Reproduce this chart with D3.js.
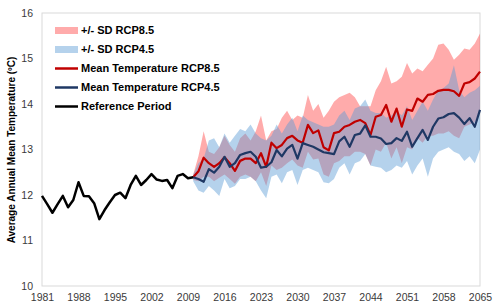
<!DOCTYPE html>
<html>
<head>
<meta charset="utf-8">
<script src="https://cdnjs.cloudflare.com/ajax/libs/d3/7.8.5/d3.min.js"></script>
<style>
body { margin:0; background:#fff; }
#container { width:500px; height:308px; position:relative; }
text { font-family:'Liberation Sans', Arial, sans-serif; }
.tick text { font-size:10.5px; fill:#3a3a3a; }
.legend-label { font-size:11px; font-weight:bold; fill:#000; }
.axis-title { font-size:10px; font-weight:bold; fill:#000; }
</style>
</head>
<body>
<div id="container"></div>
<script>

// reference period 1981-2010
var refYears = [1981,1982,1983,1984,1985,1986,1987,1988,1989,1990,1991,1992,1993,1994,1995,
	1996,1997,1998,1999,2000,2001,2002,2003,2004,2005,2006,2007,2008,2009,2010];
var refTemp = [11.98,11.80,11.61,11.80,11.98,11.73,11.89,12.28,11.98,11.97,11.82,11.47,11.67,11.84,12.00,
	12.05,11.93,12.22,12.42,12.22,12.33,12.46,12.34,12.31,12.33,12.15,12.42,12.46,12.37,12.39];

// projections 2010-2065
var projYears = [2010,2011,2012,2013,2014,2015,2016,2017,2018,2019,2020,2021,2022,2023,2024,2025,2026,2027,2028,2029,
	2030,2031,2032,2033,2034,2035,2036,2037,2038,2039,2040,2041,2042,2043,2044,2045,2046,2047,2048,2049,
	2050,2051,2052,2053,2054,2055,2056,2057,2058,2059,2060,2061,2062,2063,2064,2065];

var rcp85Mean = [12.39,12.52,12.82,12.70,12.62,12.70,12.83,12.70,12.53,12.75,12.80,12.80,12.70,12.92,12.62,13.15,13.03,13.10,13.25,13.30,
	13.20,13.15,13.54,13.36,13.42,13.05,12.98,13.36,13.39,13.50,13.54,13.61,13.65,13.58,13.32,13.72,13.76,13.98,13.61,13.90,
	13.50,13.88,13.85,14.12,14.05,14.20,14.22,14.29,14.31,14.31,14.28,14.18,14.45,14.48,14.56,14.71];
var rcp85Upper = [12.45,12.85,13.40,12.95,12.90,13.05,13.30,13.10,12.95,13.25,13.35,13.20,13.40,13.75,13.20,13.40,13.45,13.70,13.85,13.65,
	13.75,13.70,14.20,13.85,14.00,13.70,13.85,14.05,14.15,14.20,14.25,14.15,13.95,13.95,13.95,14.30,14.50,14.82,14.45,14.50,
	14.60,14.90,14.67,14.78,14.72,14.86,15.00,15.30,15.33,15.19,14.97,15.08,15.22,15.19,15.33,15.55];
var rcp85Lower = [12.33,12.30,12.40,12.40,12.30,12.38,12.45,12.35,12.25,12.40,12.45,12.40,12.30,12.50,12.20,12.65,12.55,12.60,12.70,12.78,
	12.65,12.60,12.95,12.78,12.80,12.45,12.40,12.70,12.75,12.85,12.85,12.95,12.95,12.90,12.65,13.00,12.95,13.15,12.80,13.05,
	12.70,13.05,13.00,13.25,13.15,13.30,13.30,13.35,13.35,13.40,13.30,13.25,13.50,13.55,13.60,13.80];

var rcp45Mean = [12.39,12.35,12.29,12.57,12.49,12.62,12.84,12.62,12.70,12.88,12.92,12.95,12.84,12.60,12.62,12.72,12.99,12.85,13.02,13.10,
	12.80,13.14,13.10,13.06,13.00,12.94,12.92,12.90,13.18,13.28,13.06,13.32,13.35,13.53,13.28,13.28,13.24,13.12,13.14,13.25,
	13.19,13.39,13.06,13.25,13.43,13.21,13.50,13.68,13.71,13.78,13.80,13.70,13.56,13.69,13.50,13.87];
var rcp45Upper = [12.45,12.70,12.80,13.20,13.25,13.05,13.35,13.15,13.30,13.45,13.40,13.55,13.35,13.25,13.20,13.30,13.55,13.35,13.55,13.70,
	13.40,13.75,13.65,13.60,13.55,13.50,13.50,13.55,13.75,13.85,13.65,13.90,13.95,14.10,13.85,13.80,13.80,13.70,13.75,13.85,
	13.75,13.95,13.65,13.85,14.05,13.85,14.10,14.30,14.35,14.45,14.85,14.30,14.15,14.25,14.30,14.40];
var rcp45Lower = [12.30,12.10,12.05,12.20,12.10,11.98,12.35,12.15,12.20,12.35,12.35,12.40,12.30,12.10,11.93,12.40,12.45,12.26,12.50,12.55,
	12.22,12.55,12.60,12.55,12.50,12.28,12.26,12.35,12.60,12.70,12.45,12.70,12.75,12.90,12.65,12.62,12.60,12.50,12.55,12.65,
	12.60,12.75,12.45,12.65,12.80,12.40,12.80,12.95,13.00,13.05,12.95,12.90,12.75,12.85,12.70,13.00];

var xTicks = [1981,1988,1995,2002,2009,2016,2023,2030,2037,2044,2051,2058,2065];
var xTickLabels = ['1981','1988','1995','2002','2009','2016','2023','2030','2037','2044','2051','2058','2065'];
var yTicks = [10,11,12,13,14,15,16];
var yTickLabels = ['10','11','12','13','14','15','16'];

var legendLabels = ['+/- SD RCP8.5','+/- SD RCP4.5','Mean Temperature RCP8.5','Mean Temperature RCP4.5','Reference Period'];
var yTitle = 'Average Annual Mean Temperature (\u00BAC)';

var width = 500, height = 308;
var margin = {left:42, right:20, top:13, bottom:22};

var colors = {'sd85':'rgba(255,0,0,0.33)', 'sd45':'rgba(91,155,213,0.45)', 'mean85':'#C00000', 'mean45':'#1F3864', 'ref':'#000000'};

var svg = d3.select('#container')
	.append('svg')
	.attr('width',width)
	.attr('height',height);

var x = d3.scaleLinear()
	.domain([1981, 2065])
	.range([margin.left, width - margin.right]);

var y = d3.scaleLinear()
	.domain([10, 16])
	.range([height - margin.bottom, margin.top]);

// plot frame
svg.append('rect')
	.attr('x', x.range()[0])
	.attr('y', y.range()[1])
	.attr('width', x.range()[1] - x.range()[0])
	.attr('height', y.range()[0] - y.range()[1])
	.style('fill','none')
	.style('stroke','#d9d9d9')
	.style('stroke-width',1);

var proj = projYears.map(function(yr, i){
	return {'year':yr, 'm85':rcp85Mean[i], 'u85':rcp85Upper[i], 'l85':rcp85Lower[i],
		'm45':rcp45Mean[i], 'u45':rcp45Upper[i], 'l45':rcp45Lower[i]};
});
var ref = refYears.map(function(yr, i){ return {'year':yr, 'v':refTemp[i]}; });

var area85 = d3.area()
	.x(function(d){return x(d.year);})
	.y0(function(d){return y(d.l85);})
	.y1(function(d){return y(d.u85);});

var area45 = d3.area()
	.x(function(d){return x(d.year);})
	.y0(function(d){return y(d.l45);})
	.y1(function(d){return y(d.u45);});

svg.append('path')
	.datum(proj)
	.attr('d', area85)
	.style('fill', colors.sd85);

svg.append('path')
	.datum(proj)
	.attr('d', area45)
	.style('fill', colors.sd45);

var line85 = d3.line()
	.x(function(d){return x(d.year);})
	.y(function(d){return y(d.m85);});

var line45 = d3.line()
	.x(function(d){return x(d.year);})
	.y(function(d){return y(d.m45);});

var lineRef = d3.line()
	.x(function(d){return x(d.year);})
	.y(function(d){return y(d.v);});

svg.append('path')
	.datum(proj)
	.attr('d', line85)
	.style('fill','none')
	.style('stroke', colors.mean85)
	.style('stroke-width', 2.2)
	.style('stroke-linejoin','round');

svg.append('path')
	.datum(proj)
	.attr('d', line45)
	.style('fill','none')
	.style('stroke', colors.mean45)
	.style('stroke-width', 2.2)
	.style('stroke-linejoin','round');

svg.append('path')
	.datum(ref)
	.attr('d', lineRef)
	.style('fill','none')
	.style('stroke', colors.ref)
	.style('stroke-width', 2.5)
	.style('stroke-linejoin','round');

// axes
var xAxis = svg.append('g')
	.attr('transform','translate(0,' + y.range()[0] + ')')
	.call(d3.axisBottom(x).tickValues(xTicks).tickSize(0).tickPadding(8)
		.tickFormat(function(d, i){return xTickLabels[i];}));
xAxis.select('.domain').remove();

var yAxis = svg.append('g')
	.attr('transform','translate(' + x.range()[0] + ',0)')
	.call(d3.axisLeft(y).tickValues(yTicks).tickSize(0).tickPadding(9)
		.tickFormat(function(d, i){return yTickLabels[i];}));
yAxis.select('.domain').remove();

svg.selectAll('.tick text')
	.attr('font-family', null)
	.attr('font-size', null);

svg.append('text')
	.attr('class','axis-title')
	.attr('transform','translate(11.5,150) rotate(-90)')
	.attr('text-anchor','middle')
	.attr('dy','0.35em')
	.text(yTitle);

// legend
var legendTop = 30.5, legendStep = 19, swatchX = 55, swatchW = 23;
var legendKeys = ['sd85','sd45','mean85','mean45','ref'];

var legend = svg.selectAll('.legend')
	.data(legendLabels)
	.enter()
	.append('g')
	.attr('class','legend')
	.attr('transform', function(d, i){return 'translate(0,' + (legendTop + i * legendStep) + ')';});

legend.each(function(d, i){
	var g = d3.select(this);
	if (i < 2){
		g.append('rect')
			.attr('x', swatchX)
			.attr('y', -3.5)
			.attr('width', swatchW)
			.attr('height', 7)
			.style('fill', colors[legendKeys[i]]);
	}
	else {
		g.append('line')
			.attr('x1', swatchX)
			.attr('x2', swatchX + swatchW)
			.attr('y1', 0)
			.attr('y2', 0)
			.style('stroke', colors[legendKeys[i]])
			.style('stroke-width', 2.5);
	}
	g.append('text')
		.attr('class','legend-label')
		.attr('x', swatchX + swatchW + 3)
		.attr('dy','0.35em')
		.text(d);
});

</script>
</body>
</html>
